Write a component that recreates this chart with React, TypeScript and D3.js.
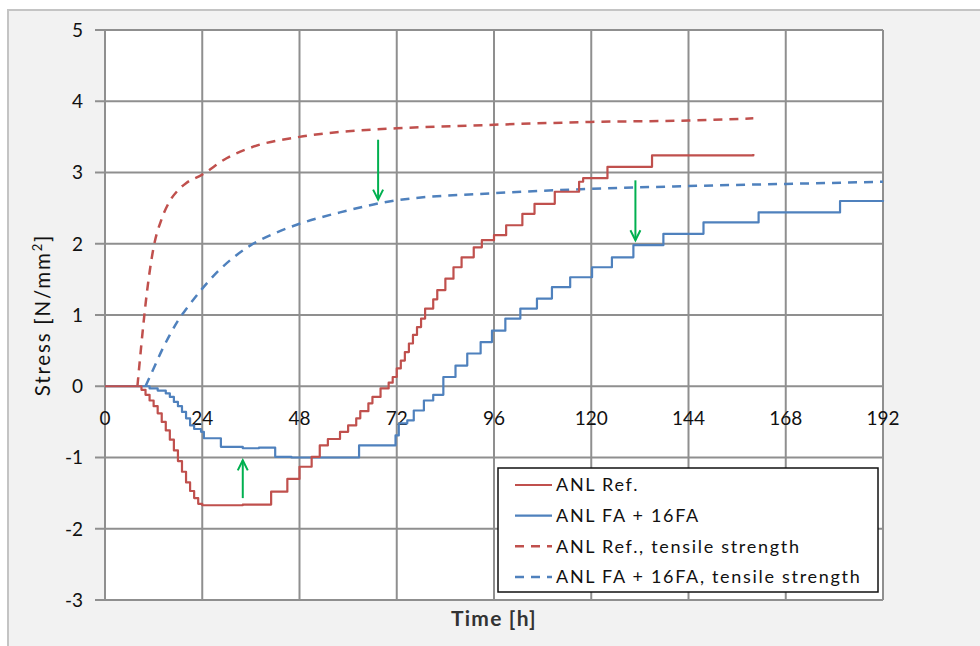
import React, { useEffect, useRef } from "react";
import * as d3 from "d3";

// x axis: hours, y axis: stress
const hourTicks = [0, 24, 48, 72, 96, 120, 144, 168, 192];
const stressTicks = [-3, -2, -1, 0, 1, 2, 3, 4, 5];

// [time h, stress N/mm2]
const anlRef: [number, number][] = [
  [0, 0], [8, 0], [9, -0.05], [10, -0.12], [11, -0.2], [12, -0.28], [13, -0.38],
  [14, -0.5], [15, -0.62], [16, -0.75], [17, -0.9], [18, -1.05], [19, -1.2],
  [20, -1.35], [21, -1.47], [22, -1.57], [23, -1.65], [24, -1.67], [34, -1.66],
  [41, -1.48], [45, -1.3], [48, -1.13], [51, -0.99], [53, -0.83], [55, -0.74],
  [58, -0.64], [60, -0.55], [62, -0.45], [63, -0.35], [65, -0.24], [66, -0.15],
  [68, -0.03], [70, 0.05], [71, 0.13], [72, 0.25], [73, 0.36], [74, 0.48],
  [75, 0.6], [76, 0.72], [77, 0.83], [78, 0.95], [79, 1.09], [81, 1.22],
  [82, 1.35], [84, 1.51], [86, 1.67], [88, 1.81], [91, 1.95], [93, 2.05],
  [96, 2.12], [99, 2.26], [103, 2.42], [106, 2.56], [111, 2.73], [117, 2.87],
  [118, 2.92], [124, 3.08], [135, 3.24], [160, 3.26],
];

const anlFa: [number, number][] = [
  [0, 0], [9, 0], [11, -0.03], [13, -0.06], [15, -0.1], [16, -0.15], [17, -0.22],
  [18, -0.28], [19, -0.36], [20, -0.45], [21, -0.55], [22, -0.6], [23.7, -0.64],
  [24.4, -0.73], [28.6, -0.85], [34, -0.87], [38, -0.86], [42, -0.99], [46, -1.0],
  [62.7, -0.83], [71.7, -0.69], [72.5, -0.52], [74.6, -0.48], [76.2, -0.34],
  [78.7, -0.2], [81, -0.12], [83.5, 0.13], [86.5, 0.29], [89.4, 0.46],
  [92.7, 0.62], [95.5, 0.78], [98.8, 0.95], [102.5, 1.09], [106.6, 1.23],
  [110.3, 1.39], [114.8, 1.53], [120.2, 1.67], [125.1, 1.81], [130.4, 1.98],
  [137.8, 2.14], [147.7, 2.3], [161.3, 2.44], [181.4, 2.6], [192, 2.61],
];

const anlRefTensile: [number, number][] = [
  [8, 0], [9, 0.6], [10, 1.15], [11, 1.6], [12, 1.95], [14, 2.35], [16, 2.6],
  [18, 2.75], [20, 2.85], [24, 2.97], [30, 3.2], [36, 3.35], [48, 3.5],
  [60, 3.58], [72, 3.62], [96, 3.67], [120, 3.71], [144, 3.73], [160, 3.76],
];

const anlFaTensile: [number, number][] = [
  [10, 0], [12, 0.25], [14, 0.5], [16, 0.72], [18, 0.92], [20, 1.08], [24, 1.37],
  [28, 1.62], [32, 1.82], [36, 1.98], [42, 2.15], [48, 2.28], [58, 2.44],
  [72, 2.61], [96, 2.71], [120, 2.77], [144, 2.81], [168, 2.84], [192, 2.87],
];

// green arrows: time, start stress, end stress
const arrows = [
  { t: 34, from: -1.57, to: -1.04 },
  { t: 67.4, from: 3.46, to: 2.62 },
  { t: 130.9, from: 2.89, to: 2.05 },
];

const legendLabels = [
  "ANL Ref.",
  "ANL FA + 16FA",
  "ANL Ref., tensile strength",
  "ANL FA + 16FA, tensile strength",
];

const RED = "#c0504d";
const BLUE = "#4f81bd";
const FONT = "Lato, 'Open Sans', sans-serif";

const App = () => {
  const svgRef = useRef<SVGSVGElement>(null);

  useEffect(() => {
    const width = 980;
    const height = 646;
    const plot = { left: 105, right: 883, top: 30, bottom: 600 };

    const svg = d3.select(svgRef.current);
    svg.selectAll("*").remove();
    svg.attr("width", width).attr("height", height);

    const x = d3.scaleLinear().domain([0, 192]).range([plot.left, plot.right]);
    const y = d3.scaleLinear().domain([-3, 5]).range([plot.bottom, plot.top]);

    // chart area
    svg.append("rect").attr("width", width).attr("height", height).attr("fill", "#fff");
    svg.append("rect")
      .attr("x", 8).attr("y", 10)
      .attr("width", width + 20).attr("height", height + 20)
      .attr("fill", "#f2f2f2")
      .attr("stroke", "#c4c4c4").attr("stroke-width", 2);

    svg.append("rect")
      .attr("x", plot.left).attr("y", plot.top)
      .attr("width", plot.right - plot.left).attr("height", plot.bottom - plot.top)
      .attr("fill", "#fff");

    // grid
    const grid = svg.append("g").attr("stroke", "#8f8f8f").attr("stroke-width", 2);
    grid.selectAll("line.v")
      .data(hourTicks)
      .enter()
      .append("line")
      .attr("x1", (d) => x(d)).attr("x2", (d) => x(d))
      .attr("y1", plot.top).attr("y2", plot.bottom);
    grid.selectAll("line.h")
      .data(stressTicks)
      .enter()
      .append("line")
      .attr("x1", plot.left - 10).attr("x2", plot.right)
      .attr("y1", (d) => y(d)).attr("y2", (d) => y(d));

    // tick labels
    svg.append("g")
      .selectAll("text")
      .data(stressTicks)
      .enter()
      .append("text")
      .attr("x", 83)
      .attr("y", (d) => y(d))
      .attr("dy", "0.36em")
      .attr("text-anchor", "end")
      .attr("font-family", FONT)
      .attr("font-size", 19)
      .attr("fill", "#111")
      .text((d) => d);

    svg.append("g")
      .selectAll("text")
      .data(hourTicks)
      .enter()
      .append("text")
      .attr("x", (d) => x(d))
      .attr("y", y(0) + 39)
      .attr("text-anchor", "middle")
      .attr("font-family", FONT)
      .attr("font-size", 19)
      .attr("fill", "#111")
      .text((d) => d);

    // axis titles
    const yTitle = svg.append("text")
      .attr("transform", `translate(50,${(plot.top + plot.bottom) / 2}) rotate(-90)`)
      .attr("text-anchor", "middle")
      .attr("font-family", FONT)
      .attr("font-size", 20.5)
      .attr("letter-spacing", 1.8)
      .attr("fill", "#111");
    yTitle.append("tspan").text("Stress [N/mm");
    yTitle.append("tspan").attr("baseline-shift", "super").attr("font-size", 13).text("2");
    yTitle.append("tspan").text("]");

    svg.append("text")
      .attr("x", (plot.left + plot.right) / 2)
      .attr("y", 626)
      .attr("text-anchor", "middle")
      .attr("font-family", FONT)
      .attr("font-weight", "bold")
      .attr("font-size", 21)
      .attr("letter-spacing", 1.2)
      .attr("fill", "#333")
      .text("Time [h]");

    // series
    const stepLine = d3.line<[number, number]>()
      .x((d) => x(d[0])).y((d) => y(d[1]))
      .curve(d3.curveStepAfter);
    const smoothLine = d3.line<[number, number]>()
      .x((d) => x(d[0])).y((d) => y(d[1]))
      .curve(d3.curveMonotoneX);

    const series = [
      { data: anlFaTensile, color: BLUE, dashed: true },
      { data: anlRefTensile, color: RED, dashed: true },
      { data: anlFa, color: BLUE, dashed: false },
      { data: anlRef, color: RED, dashed: false },
    ];

    series.forEach((s) => {
      svg.append("path")
        .attr("d", s.dashed ? smoothLine(s.data) : stepLine(s.data))
        .attr("fill", "none")
        .attr("stroke", s.color)
        .attr("stroke-width", s.dashed ? 2.5 : 2.2)
        .attr("stroke-dasharray", s.dashed ? "9,7" : null)
        .attr("stroke-linejoin", "round");
    });

    // arrows
    const green = "#00b050";
    arrows.forEach((a) => {
      const ax = x(a.t);
      const y1 = y(a.from);
      const y2 = y(a.to);
      const dir = y2 > y1 ? -1 : 1;
      svg.append("line")
        .attr("x1", ax).attr("x2", ax).attr("y1", y1).attr("y2", y2)
        .attr("stroke", green).attr("stroke-width", 2);
      svg.append("path")
        .attr("d", `M${ax - 5},${y2 + dir * 10}L${ax},${y2}L${ax + 5},${y2 + dir * 10}`)
        .attr("fill", "none").attr("stroke", green).attr("stroke-width", 2);
    });

    // legend
    const legend = svg.append("g");
    legend.append("rect")
      .attr("x", 498).attr("y", 468)
      .attr("width", 380).attr("height", 124)
      .attr("fill", "#fff").attr("stroke", "#111").attr("stroke-width", 1.5);

    const legendStyle = [
      { color: RED, dashed: false },
      { color: BLUE, dashed: false },
      { color: RED, dashed: true },
      { color: BLUE, dashed: true },
    ];
    const rowY = d3.scalePoint<number>().domain([0, 1, 2, 3]).range([485, 577]);

    legendLabels.forEach((label, i) => {
      const ly = rowY(i) as number;
      legend.append("line")
        .attr("x1", 515).attr("x2", 552).attr("y1", ly).attr("y2", ly)
        .attr("stroke", legendStyle[i].color)
        .attr("stroke-width", legendStyle[i].dashed ? 2.5 : 2.2)
        .attr("stroke-dasharray", legendStyle[i].dashed ? "9,7" : null);
      legend.append("text")
        .attr("x", 556).attr("y", ly).attr("dy", "0.36em")
        .attr("font-family", FONT)
        .attr("font-size", 18)
        .attr("letter-spacing", 1.7)
        .attr("fill", "#111")
        .text(label);
    });
  }, []);

  return (
    <svg
      ref={svgRef}
      style={{ position: "absolute", left: 0, top: 0, display: "block" }}
    ></svg>
  );
};

export default App;
